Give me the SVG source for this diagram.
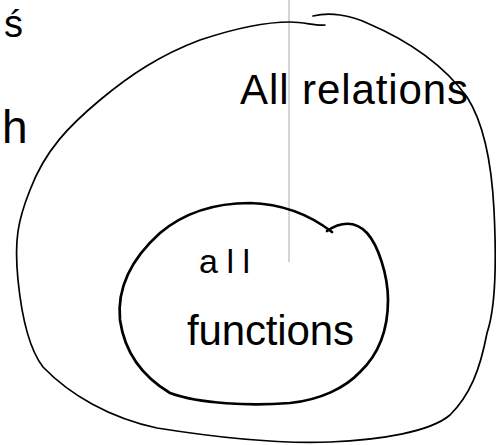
<svg xmlns="http://www.w3.org/2000/svg" width="496" height="445" viewBox="0 0 496 445">
<style>
.t{font-family:"Liberation Sans","DejaVu Sans",sans-serif;fill:#000}
.line{fill:none;stroke:#000;stroke-linecap:round;stroke-linejoin:round}
</style>
<rect width="496" height="445" fill="#fff"/>
<line x1="289" y1="0" x2="289" y2="262" stroke="#aaa" stroke-width="1"/>
<g id="margin">
<text class="t" x="4" y="37" font-size="38">ś</text>
<text class="t" x="2" y="143" font-size="46">h</text>
</g>
<g id="all-relations">
<path class="line" stroke-width="1.7" d="M313,16 C330,12 350,15 367,23 C400,37 440,60 467,97 C485,125 492,170 494,210 C497,270 495,310 487,333 C480,370 470,395 450,415 C430,432 380,440 330,442 C280,444 220,438 157,428 C110,418 70,395 43,367 C30,350 22,320 18,280 C14,240 18,220 30,190 C45,150 70,125 100,100 C130,75 160,55 200,40 C230,30 260,22 290,22 C305,22 315,26 325,25"/>
<text class="t" x="240" y="104" font-size="42" textLength="228" lengthAdjust="spacing">All relations</text>
</g>
<g id="all-functions">
<path class="line" stroke-width="2.7" d="M327,231 C340,222 355,220 367,233 C378,245 388,275 388,300 C388,330 378,355 360,372 C345,388 320,400 290,403 C250,406 200,404 170,393 C145,378 125,355 120,320 C117,290 130,260 160,233 C185,212 215,203 250,203 C285,204 310,215 332,232"/>
<text class="t" x="199" y="273" font-size="34" textLength="51" lengthAdjust="spacing">all</text>
<text class="t" x="187" y="345" font-size="42" textLength="167" lengthAdjust="spacing">functions</text>
</g>
</svg>
